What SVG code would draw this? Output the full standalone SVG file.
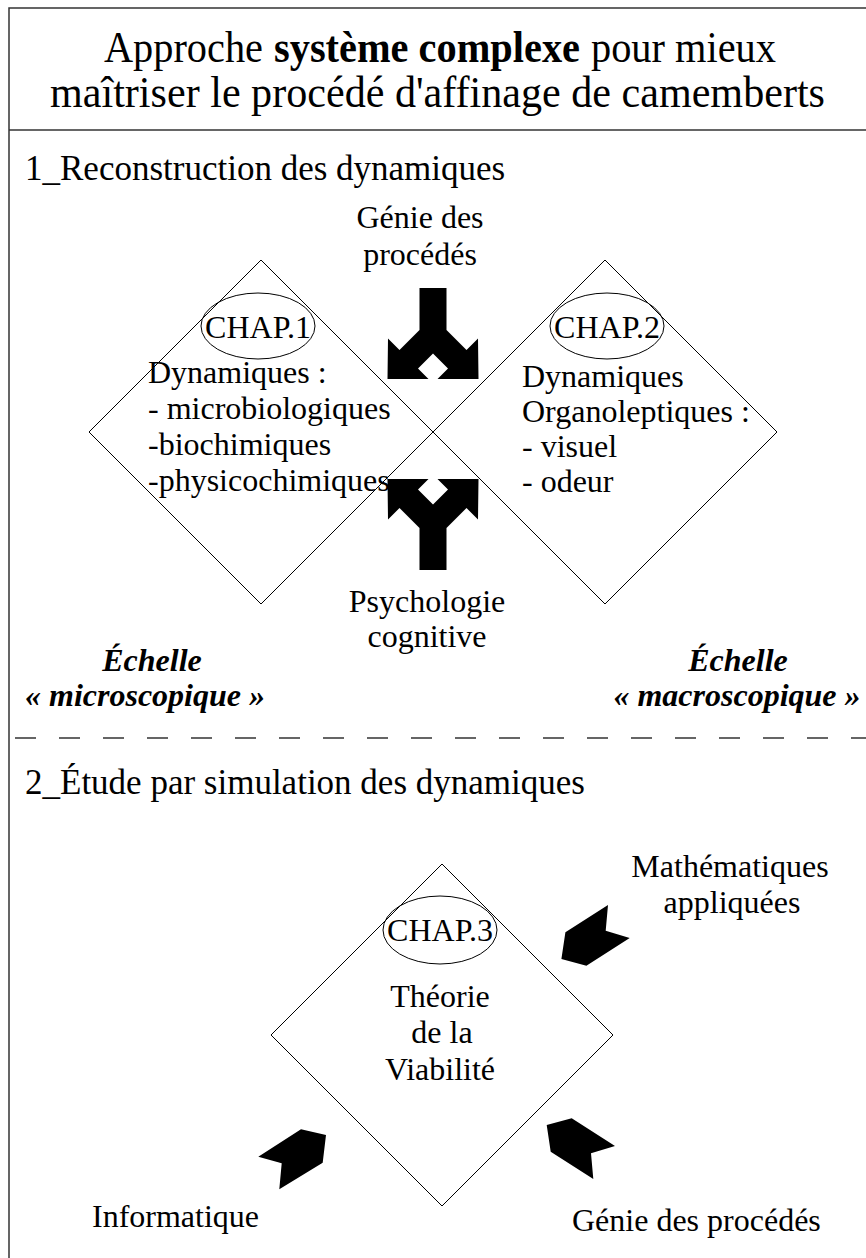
<svg xmlns="http://www.w3.org/2000/svg" xmlns:xlink="http://www.w3.org/1999/xlink" width="866" height="1258" viewBox="0 0 866 1258">
<style>
text{font-family:"Liberation Serif","Times New Roman",serif;fill:#000}
.t{font-size:44px}
.tb{font-size:44px;font-weight:bold}
.h{font-size:35px}
.b{font-size:32px}
.e{font-size:32px;font-weight:bold;font-style:italic}
.m{text-anchor:middle}
.dia{fill:none;stroke:#000;stroke-width:1}
.ell{fill:none;stroke:#000;stroke-width:1}
.frame{fill:none;stroke:#333;stroke-width:1.5}
.blk{fill:#000;stroke:none}
</style>
<defs>
<path id="fork" class="blk" d="M419.5,288 L446.5,288 L446.5,330 L466.5,350 L478,338.5 L478.5,379 L437.5,379 L448,368.5 L433,353.5 L418,368.5 L428.5,379 L387.5,379 L388,338.5 L399.5,350 L419.5,330 Z"/>
</defs>
<rect width="866" height="1258" fill="#fff"/>
<g id="frame">
<rect class="frame" x="9" y="8" width="880" height="1270"/>
<line class="frame" x1="9" y1="130" x2="866" y2="130"/>
<line x1="15" y1="738" x2="866" y2="738" stroke="#333" stroke-width="1.5" stroke-dasharray="21 23"/>
</g>
<g id="title">
<text class="t" x="104" y="62" textLength="159" lengthAdjust="spacingAndGlyphs">Approche</text>
<text class="tb" x="274" y="62" textLength="306" lengthAdjust="spacingAndGlyphs">système complexe</text>
<text class="t" x="591" y="62" textLength="185" lengthAdjust="spacingAndGlyphs">pour mieux</text>
<text class="t" x="50" y="107" textLength="775" lengthAdjust="spacingAndGlyphs">maîtriser le procédé d'affinage de camemberts</text>
</g>
<g id="section1">
<text class="h" x="25" y="180">1_Reconstruction des dynamiques</text>
</g>
<g id="chap1">
<polygon class="dia" points="261,260 433,432 261,604 89,432"/>
<ellipse class="ell" cx="258" cy="326" rx="57" ry="33"/>
<text class="b m" x="258" y="338">CHAP.1</text>
<text class="b" x="148" y="383">Dynamiques :</text>
<text class="b" x="148" y="419">- microbiologiques</text>
<text class="b" x="148" y="455">-biochimiques</text>
<text class="b" x="148" y="491">-physicochimiques</text>
</g>
<g id="chap2">
<polygon class="dia" points="605,260 777,432 605,604 433,432"/>
<ellipse class="ell" cx="607" cy="326" rx="57" ry="33"/>
<text class="b m" x="607" y="338">CHAP.2</text>
<text class="b" x="522" y="387">Dynamiques</text>
<text class="b" x="522" y="422">Organoleptiques :</text>
<text class="b" x="522" y="457">- visuel</text>
<text class="b" x="522" y="492">- odeur</text>
</g>
<g id="genie1">
<text class="b m" x="420" y="228">Génie des</text>
<text class="b m" x="420" y="265">procédés</text>
</g>
<g id="psycho">
<text class="b m" x="427" y="612">Psychologie</text>
<text class="b m" x="427" y="647">cognitive</text>
</g>
<g id="echelle-micro">
<text class="e m" x="152" y="671">Échelle</text>
<text class="e m" x="145" y="706">« microscopique »</text>
</g>
<g id="echelle-macro">
<text class="e m" x="738" y="671">Échelle</text>
<text class="e m" x="737" y="706">« macroscopique »</text>
</g>
<g id="section2">
<text class="h" x="25" y="794">2_Étude par simulation des dynamiques</text>
</g>
<g id="chap3">
<polygon class="dia" points="442,864 613,1035 442,1206 271,1035"/>
<ellipse class="ell" cx="440" cy="930" rx="57" ry="34"/>
<text class="b m" x="440" y="941">CHAP.3</text>
<text class="b m" x="440" y="1007">Théorie</text>
<text class="b m" x="442" y="1043">de la</text>
<text class="b m" x="440" y="1080">Viabilité</text>
</g>
<g id="maths">
<text class="b m" x="730" y="877">Mathématiques</text>
<text class="b m" x="732" y="913">appliquées</text>
</g>
<g id="info">
<text class="b" x="92" y="1227">Informatique</text>
</g>
<g id="genie2">
<text class="b" x="572" y="1231">Génie des procédés</text>
</g>
<g id="connectors">
<use xlink:href="#fork"/>
<use xlink:href="#fork" transform="translate(0,858) scale(1,-1)"/>
<polygon class="blk" points="561.4,959 586.4,965.7 629.7,938 605.7,930.7 608,905 565.4,932.3"/>
<polygon class="blk" points="326,1135 322.7,1162.7 279.3,1189.3 281.7,1163.3 258.3,1156.7 301,1129.3"/>
<polygon class="blk" points="546.7,1125 571.7,1118.3 615,1146 591,1153.3 593.3,1179 550.7,1151.7"/>
</g>
</svg>
